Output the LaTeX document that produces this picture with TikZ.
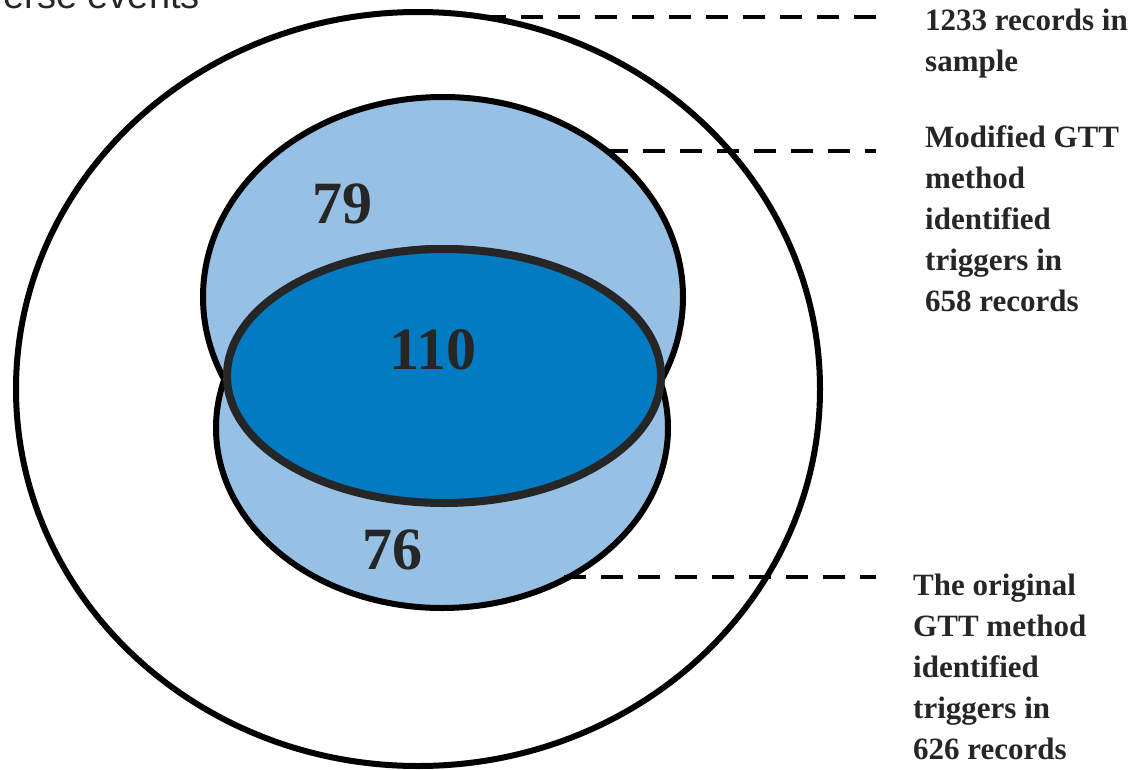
\documentclass[tikz,border=0pt]{standalone}
\usepackage{fontspec}
\setmainfont{Liberation Serif}
\setsansfont{Liberation Sans}
\usetikzlibrary{shapes.geometric}
\definecolor{lightset}{HTML}{97C0E5}
\definecolor{bothset}{HTML}{027BC2}
\definecolor{inkgray}{HTML}{262626}

\begin{document}
\begin{tikzpicture}[x=1pt,y=-1pt,
  set/.style={ellipse, draw=black, line width=6pt, fill=lightset, inner sep=0pt, outer sep=0pt},
  leader/.style={line width=4pt, dash pattern=on 22pt off 15pt},
  count/.style={font=\bfseries\fontsize{60}{60}\selectfont, text=inkgray, inner sep=0pt},
  note/.style={font=\bfseries\fontsize{31}{41}\selectfont, text=inkgray, align=left, anchor=base west, inner sep=0pt}]

  \useasboundingbox (0,0) rectangle (1138,769);

  %% cut-off heading
  \node[font=\sffamily\fontsize{38}{38}\selectfont, text=inkgray, anchor=base east, inner sep=0pt] (heading) at (200,8) {Adverse events};

  %% the sets
  \node[set, fill=white, minimum width=804pt, minimum height=754pt] (sample) at (418,389) {};
  \node[set, minimum width=480pt, minimum height=400pt] (modified) at (443,297) {};
  \node[set, minimum width=452pt, minimum height=360pt] (original) at (442,428) {};
  \node[set, draw=inkgray, line width=8pt, fill=bothset, minimum width=434pt, minimum height=254pt] (both) at (444,376) {};

  \node[count] (n79) at (342,204) {79};
  \node[count] (n110) at (433,350) {110};
  \node[count] (n76) at (392,550) {76};

  %% labels (anchored on the last line)
  \node[note] (lsample) at (925,71) {1233 records in\\sample};
  \node[note] (lmodified) at (925,311) {Modified GTT\\method\\identified\\triggers in\\658 records};
  \node[note] (loriginal) at (913,759) {The original\\GTT method\\identified\\triggers in\\626 records};

  %% leaders
  \coordinate (tsample) at (887,17);
  \coordinate (tmodified) at (876,151);
  \coordinate (toriginal) at (876,577);
  \draw[leader] (tsample -| sample.80) -- (tsample); % sample
  \draw[leader] (tmodified -| modified.42) -- (tmodified); % modified
  \draw[leader] (toriginal -| original.-51) -- (toriginal); % original

\end{tikzpicture}
\end{document}
